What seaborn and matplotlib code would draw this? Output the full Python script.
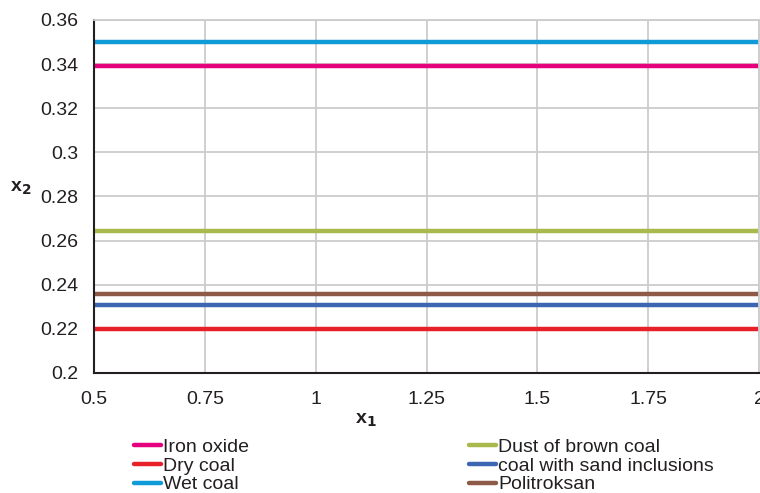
import pandas as pd
import matplotlib.pyplot as plt
import seaborn as sns

materials = ['Iron oxide', 'Dry coal', 'Wet coal',
             'Dust of brown coal', 'coal with sand inclusions', 'Politroksan']
x2_values = [0.339, 0.2198, 0.350, 0.2643, 0.2307, 0.2357]
x1_range = [0.5, 2.0]
colors = ['#e6007e', '#e8202a', '#0f9ad8', '#a9b94c', '#3c66b1', '#8c5a46']

rows = []
for name, val in zip(materials, x2_values):
    for x in x1_range:
        rows.append({'x1': x, 'x2': val, 'material': name})
df = pd.DataFrame(rows)

sns.set_style('white')
plt.rcParams['font.family'] = ['Liberation Sans', 'DejaVu Sans']

fig = plt.figure(figsize=(7.6, 4.93), dpi=100)
ax = fig.add_axes([94 / 760, 1 - 373 / 493, 665 / 760, 353 / 493])

sns.lineplot(data=df, x='x1', y='x2', hue='material', hue_order=materials,
             palette=colors, linewidth=3.2, ax=ax)

ax.set_xlim(0.5, 2)
ax.set_ylim(0.2, 0.36)
ax.set_xticks([0.5, 0.75, 1, 1.25, 1.5, 1.75, 2])
ax.set_xticklabels(['0.5', '0.75', '1', '1.25', '1.5', '1.75', '2'])
ax.set_yticks([0.2, 0.22, 0.24, 0.26, 0.28, 0.3, 0.32, 0.34, 0.36])
ax.set_yticklabels(['0.2', '0.22', '0.24', '0.26', '0.28', '0.3', '0.32', '0.34', '0.36'])
ax.tick_params(labelsize=14, colors='#231f20', length=5, width=1.2)
ax.tick_params(axis='x', direction='inout', pad=9, length=8)
ax.tick_params(axis='y', direction='out', pad=6)
ax.grid(True, color='#cccccc', linewidth=1.3)
ax.set_axisbelow(True)

for side in ['left', 'bottom']:
    ax.spines[side].set_color('#231f20')
    ax.spines[side].set_linewidth(1.5)
for side in ['top', 'right']:
    ax.spines[side].set_color('#cccccc')
    ax.spines[side].set_linewidth(1.3)

ax.set_xlabel('x$_\\mathbf{1}$', fontsize=14, fontweight='bold', color='#231f20', va='center')
ax.set_ylabel('x$_\\mathbf{2}$', fontsize=14, fontweight='bold', rotation=0,
              color='#231f20', va='center', ha='center')
ax.xaxis.set_label_coords(0.409, -0.135)
ax.yaxis.set_label_coords(-0.11, 0.524)

leg = ax.legend(loc='upper left', bbox_to_anchor=(0.06, -0.185), ncol=2, frameon=False,
                fontsize=14, handlelength=1.4, handletextpad=0.1, columnspacing=11.3,
                labelspacing=0.06, borderaxespad=0, borderpad=0)
for t in leg.get_texts():
    t.set_color('#231f20')

fig.savefig('out.png', dpi=100)
